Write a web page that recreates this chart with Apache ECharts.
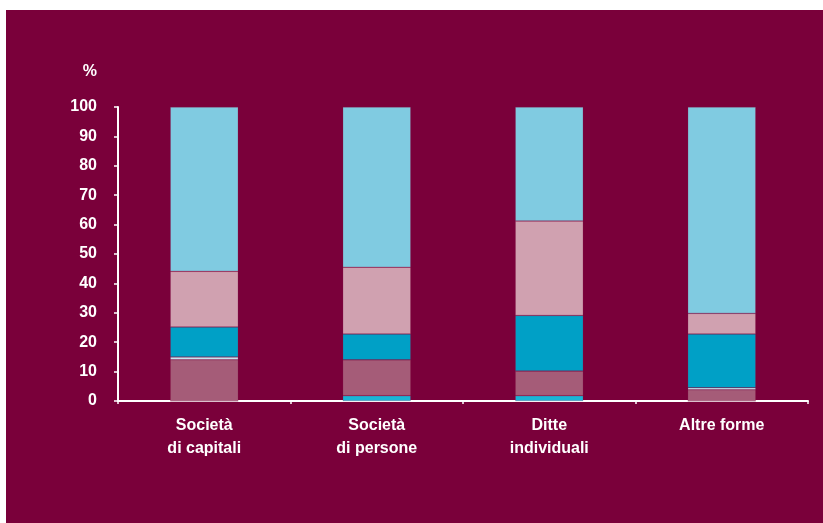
<!DOCTYPE html>
<html>
<head>
<meta charset="utf-8">
<script src="https://cdn.jsdelivr.net/npm/echarts@6/dist/echarts.min.js"></script>
<style>
html,body{margin:0;padding:0;background:#fff;}
#c{width:823px;height:523px;}
</style>
</head>
<body>
<div id="c"></div>
<script>
var categories = ['Società\ndi capitali', 'Società\ndi persone', 'Ditte\nindividuali', 'Altre forme'];
var yTicks = [0, 10, 20, 30, 40, 50, 60, 70, 80, 90, 100];
var s1 = [0, 1.8, 1.8, 0];
var s2 = [14.0, 12.2, 8.4, 3.8];
var s3 = [1.0, 0, 0, 0.7];
var s4 = [10.2, 8.8, 18.9, 18.3];
var s5 = [18.9, 22.7, 32.1, 7.0];
var s6 = [55.9, 54.5, 38.8, 70.2];
var seriesData = [s1, s2, s3, s4, s5, s6];
var colors = ['#19b5d6', '#a55c78', '#c6e3ee', '#00a0c6', '#d0a1b0', '#80cbe1'];

var font = 'Liberation Sans';
var chart = echarts.init(document.getElementById('c'));
chart.setOption({
  backgroundColor: '#ffffff',
  animation: false,
  graphic: [{
    type: 'rect', z: -10, silent: true,
    shape: {x: 6, y: 10, width: 817, height: 513},
    style: {fill: '#7a003a'}
  }],
  grid: {left: 118, right: 15, top: 107, bottom: 122},
  xAxis: {
    type: 'category',
    data: categories,
    boundaryGap: true,
    axisLine: {lineStyle: {color: '#ffffff', width: 2}},
    axisTick: {show: true, length: 3, lineStyle: {color: '#ffffff', width: 1.5}},
    axisLabel: {color: '#ffffff', fontFamily: font, fontWeight: 'bold', fontSize: 16, lineHeight: 23, margin: 13}
  },
  yAxis: {
    type: 'value', min: yTicks[0], max: yTicks[yTicks.length - 1], interval: 10,
    name: '%',
    nameLocation: 'end',
    nameGap: 27,
    nameTextStyle: {color: '#ffffff', fontFamily: font, fontWeight: 'bold', fontSize: 16, align: 'right', padding: [0, 21, 0, 0]},
    splitLine: {show: false},
    axisLine: {show: true, lineStyle: {color: '#ffffff', width: 2}},
    axisTick: {show: true, length: 4, lineStyle: {color: '#ffffff', width: 1.5}},
    axisLabel: {color: '#ffffff', fontFamily: font, fontWeight: 'bold', fontSize: 16, margin: 21}
  },
  series: seriesData.map(function (d, i) {
    return {
      type: 'bar', stack: 'all', data: d, barWidth: 68,
      itemStyle: {color: colors[i], borderColor: 'rgba(140,30,80,0.5)', borderWidth: 0.5}
    };
  })
});
</script>
</body>
</html>
